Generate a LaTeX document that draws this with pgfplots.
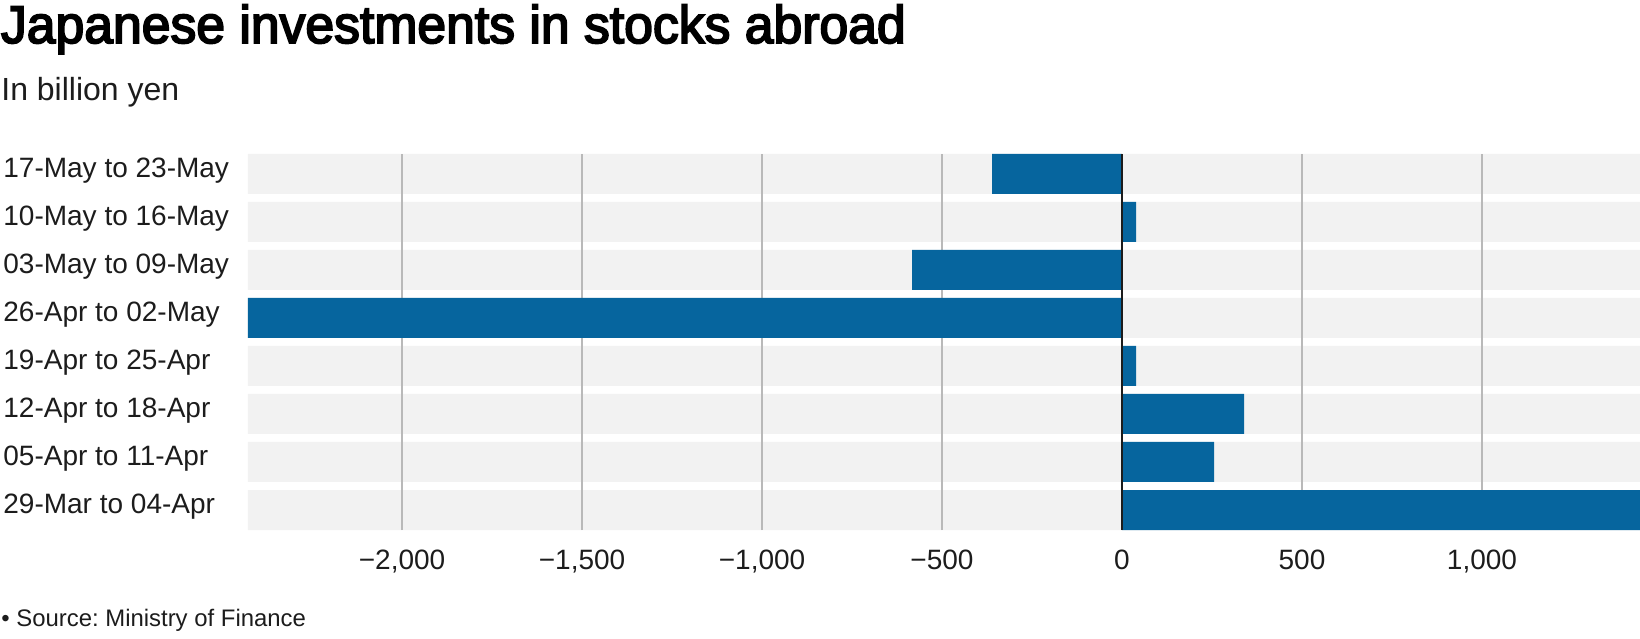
\documentclass[border=0pt]{standalone}
\usepackage{fontspec}
\setmainfont{Liberation Sans}
\newfontfamily\titlefont[FakeBold=3.5]{Liberation Sans}
\usepackage{pgfplots}
\pgfplotsset{compat=1.18}
\definecolor{barblue}{RGB}{6,101,158}
\definecolor{band}{RGB}{242,242,242}
\definecolor{gridc}{RGB}{185,185,185}
\definecolor{txt}{RGB}{28,28,28}
\frenchspacing
\begin{document}
\begin{tikzpicture}
\useasboundingbox (0,0) rectangle (820pt,319pt);
\node[anchor=base west, inner sep=0pt, text=black] at (0.3pt,297.5pt) {\scalebox{0.975}[1]{\titlefont\fontsize{26.5pt}{30pt}\selectfont Japanese investments in stocks abroad}};
\node[anchor=base west, inner sep=0pt, text=txt] at (0.5pt,268.5pt) {\fontsize{16pt}{18pt}\selectfont In billion yen};
\node[anchor=base west, inner sep=0pt, text=txt] at (0.5pt,5.5pt) {\fontsize{11.95pt}{14pt}\selectfont • Source: Ministry of Finance};
\begin{axis}[
  at={(124pt,54pt)}, anchor=south west,
  width=696pt, height=188pt, scale only axis,
  xbar, bar width=20pt,
  xmin=-2428, xmax=1439,
  ymin=-0.41667, ymax=7.41667,
  axis line style={draw=none},
  major tick length=0pt,
  xtick={-2000,-1500,-1000,-500,0,500,1000},
  xticklabels={{−2,000},{−1,500},{−1,000},{−500},{0},{500},{1,000}},
  ytick={0,...,7},
  yticklabels={{29-Mar to 04-Apr},{05-Apr to 11-Apr},{12-Apr to 18-Apr},{19-Apr to 25-Apr},{26-Apr to 02-May},{03-May to 09-May},{10-May to 16-May},{17-May to 23-May}},
  xticklabel style={anchor=base, inner sep=0pt, yshift=-19.5pt, font=\fontsize{14pt}{16pt}\selectfont, text=txt},
  yticklabel style={anchor=base west, inner sep=0pt, xshift=-122.5pt, yshift=-1.85pt, font=\fontsize{14pt}{16pt}\selectfont, text=txt},
]
% background bands
\addplot[fill=band, draw=none, bar shift=0pt, forget plot] coordinates {(1439,0) (1439,1) (1439,2) (1439,3) (1439,4) (1439,5) (1439,6) (1439,7)};
\addplot[fill=band, draw=none, bar shift=0pt, forget plot] coordinates {(-2428,0) (-2428,1) (-2428,2) (-2428,3) (-2428,4) (-2428,5) (-2428,6) (-2428,7)};
% grid lines
\pgfplotsinvokeforeach{-2000,-1500,-1000,-500,500,1000}{
  \draw[gridc, line width=0.6pt] (axis cs:#1,-0.41667) -- (axis cs:#1,7.41667);
}
% data
\addplot[fill=barblue, draw=none, bar shift=0pt] coordinates {(1439,0) (256,1) (339,2) (39,3) (-2428,4) (-583,5) (39,6) (-361,7)};
\draw[txt, line width=0.9pt] (axis cs:0,-0.41667) -- (axis cs:0,7.41667);
\end{axis}
\end{tikzpicture}
\end{document}
